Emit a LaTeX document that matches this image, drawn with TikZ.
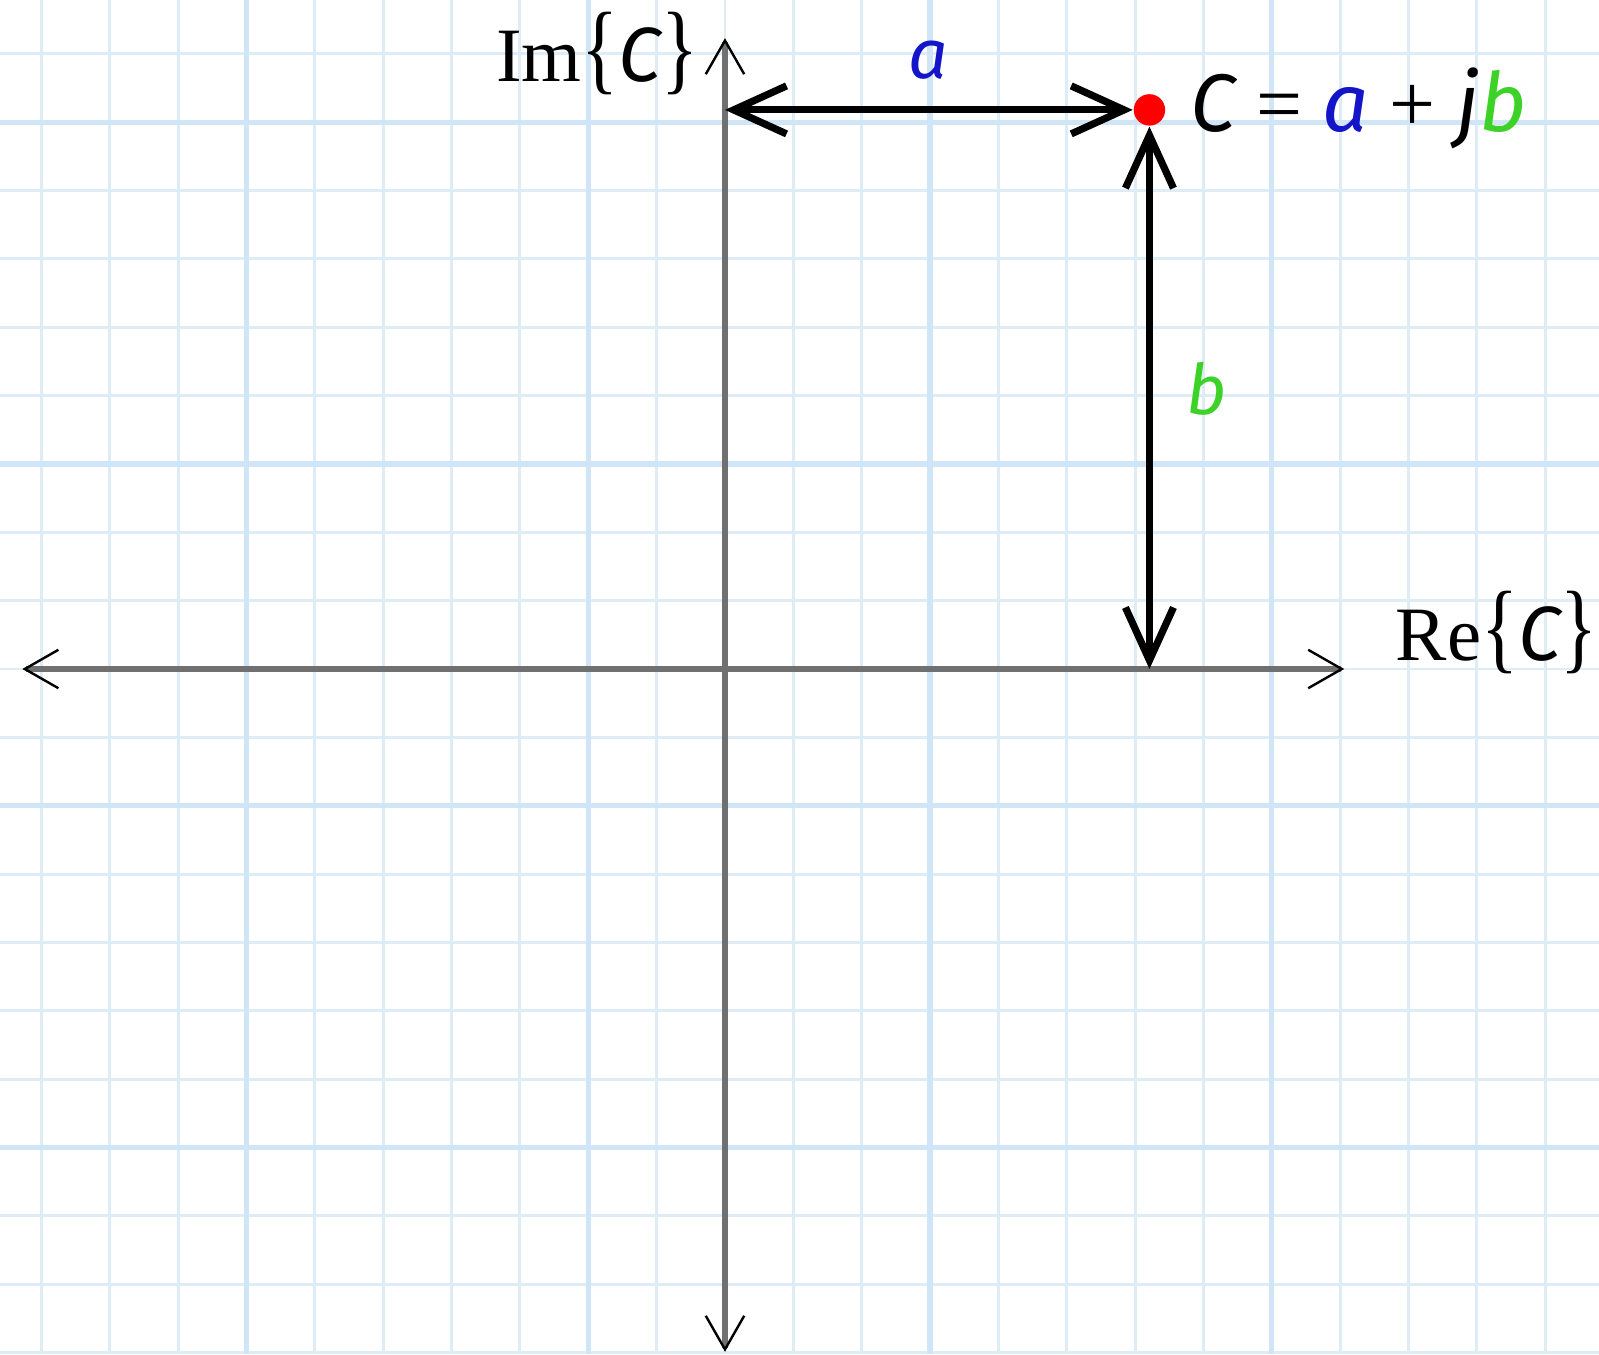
\documentclass[tikz,border=0pt]{standalone}
\usepackage{graphicx}
\usepackage{fontspec}
\setmainfont{Liberation Serif}
\newfontfamily\lblfont{Fira Sans}
\usetikzlibrary{arrows.meta}
\definecolor{gridline}{RGB}{222,236,246}
\definecolor{gridmajor}{RGB}{208,229,247}
\definecolor{axisgray}{RGB}{112,112,112}
\definecolor{ablue}{RGB}{20,20,200}
\definecolor{bgreen}{RGB}{60,210,40}
\newcommand{\sym}[1]{{\lblfont\itshape #1}}
\newcommand{\bigbr}[1]{\scalebox{1}[1.3]{#1}}
\newcommand{\op}[1]{\hspace{0.25em}{\rmfamily\upshape #1}\hspace{0.25em}}

\begin{document}
\begin{tikzpicture}[
  x=0.5cm,y=0.5cm,
  minorline/.style={draw=gridline,line width=0.6pt},
  majorline/.style={draw=gridmajor,line width=1.1pt},
  axis/.style={axisgray,line width=1.2pt,
    {Straight Barb[color=black,line width=0.5pt,length=7pt,width=8pt]}-{Straight Barb[color=black,line width=0.5pt,length=7pt,width=8pt]}},
  dimarr/.style={line width=1.5pt,
    {Straight Barb[length=11pt,width=10pt]}-{Straight Barb[length=11pt,width=10pt]}},
  dot/.style={circle,fill=red,inner sep=0pt,minimum size=0.23cm},
  lbl/.style={font=\fontsize{14.5}{16}\lblfont\itshape},
  axlbl/.style={font=\fontsize{16}{18}\selectfont,inner sep=0pt}
]

% Paper
\fill[white] (-10.607,-10.022) rectangle (12.787,9.788);
\useasboundingbox (-10.607,-10.022) rectangle (12.787,9.788);

% Grid
\foreach \gx in {-10,...,12}
  \draw[minorline] (\gx,-10.022) -- (\gx,9.788);
\foreach \gy in {-10,...,9}
  \draw[minorline] (-10.607,\gy) -- (12.787,\gy);
\foreach \gx in {-7,-2,3,8}
  \draw[majorline] (\gx,-10.022) -- (\gx,9.788);
\foreach \gy in {-7,-2,3,8}
  \draw[majorline] (-10.607,\gy) -- (12.787,\gy);

% Axes
\coordinate (xneg) at (-10.28,0);
\coordinate (xpos) at (9.06,0);
\coordinate (yneg) at (0,-9.99);
\coordinate (ypos) at (0,9.23);
\draw[axis] (xneg) -- (xpos);
\draw[axis] (yneg) -- (ypos);

% The point and its parts
\node[dot] (C) at (6.21,8.18) {};
\coordinate (Cim) at (0,8.18);
\coordinate (Cre) at (6.21,0);
\draw[dimarr] (Cim) -- (C);
\draw[dimarr] (C) -- (Cre);

% Labels
\node[lbl,text=ablue] (la) at (2.97,8.91) {a};
\node[lbl,text=bgreen] (lb) at (7.05,4.10) {b};
\node[axlbl,anchor=base east] (imlbl) at (-0.38,8.59)
  {Im\bigbr{\{}\sym{C}\bigbr{\}}};
\node[axlbl,anchor=base west] (relbl) at (9.80,0.13)
  {Re\bigbr{\{}\sym{C}\bigbr{\}}};
\node[axlbl,anchor=base west,font=\fontsize{17}{19}\lblfont\itshape] (eq) at (6.80,7.87)
  {C\op{=}{\color{ablue}a}\op{+}j{\color{bgreen}b}};

\end{tikzpicture}
\end{document}
